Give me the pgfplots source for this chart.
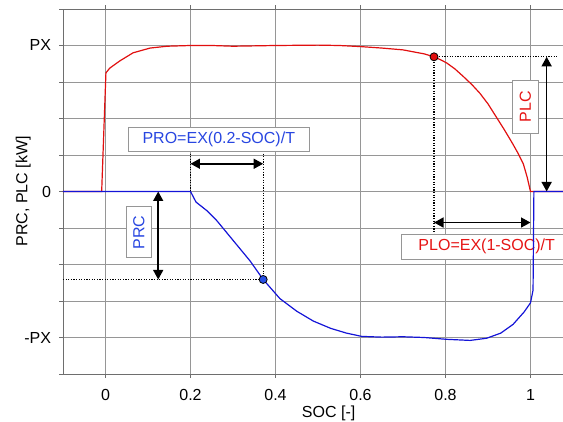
\documentclass[border=0pt]{standalone}
\usepackage{pgfplots}
\pgfplotsset{compat=1.18}
\usetikzlibrary{arrows.meta}
\usepackage{fontspec}
\setmainfont{Liberation Sans}

\definecolor{plcred}{RGB}{225,15,15}
\definecolor{prcblue}{RGB}{20,20,215}
\definecolor{dotblue}{RGB}{40,80,230}
\definecolor{txtblue}{RGB}{40,70,225}
\definecolor{txtred}{RGB}{230,20,20}
\definecolor{gridgray}{RGB}{150,150,150}
\definecolor{framegray}{RGB}{110,110,110}

\tikzset{
  helper/.style={black, line width=1.1pt, dash pattern=on 1.2pt off 1.4pt},
  dim/.style={black, line width=1.5pt, {Triangle[length=9.5pt,width=10pt]}-{Triangle[length=9.5pt,width=10pt]}},
  tag/.style={draw=gridgray, fill=white, line width=0.8pt, inner sep=0pt},
}

\begin{document}
\fontsize{16}{19}\selectfont
\begin{tikzpicture}
\path[use as bounding box] (-63pt,-47pt) rectangle (500pt,374pt);
\begin{axis}[
  scale only axis,
  width=531.25pt, height=365pt,
  xmin=-0.1, xmax=1.15, ymin=-5, ymax=5,
  xtick={0,0.2,0.4,0.6,0.8,1},
  ytick={-5,-4,-3,-2,-1,0,1,2,3,4,5},
  yticklabels={,-PX,,,,0,,,,PX,},
  /pgf/number format/assume math mode=true,
  xticklabel style={yshift=-6pt},
  yticklabel style={xshift=-3pt},
  grid=major,
  major grid style={gridgray, line width=0.8pt},
  axis line style={framegray, line width=0.9pt},
  tick style={framegray, line width=0.8pt},
  tick align=outside,
  major tick length=3.5pt,
  clip=false,
]

% axis titles
\node[anchor=base] at ([yshift=-43pt]rel axis cs:0.5,0) {SOC [-]};
\node[anchor=base, rotate=90] at ([xshift=-35.5pt]rel axis cs:0,0.5) {PRC, PLC [kW]};

% guide lines for the offsets
\draw[helper] (axis cs:-0.1,-2.41) -- (axis cs:0.371,-2.41);
\draw[helper] (axis cs:0.2,1.04) -- (axis cs:0.2,0);
\draw[helper] (axis cs:0.371,1.04) -- (axis cs:0.371,-2.41);
\draw[helper] (axis cs:0.773,3.69) -- (axis cs:1.065,3.69);
\draw[helper] (axis cs:0.773,3.69) -- (axis cs:0.773,-1.2);

% label boxes
\node[tag, text=txtblue, minimum width=181pt, minimum height=23.4pt] at (axis cs:0.2666,1.43) {PRO=EX(0.2-SOC)/T};
\node[tag, text=txtblue, rotate=90, minimum width=51pt, minimum height=25.7pt] at (axis cs:0.0784,-1.12) {PRC};
\node[tag, text=txtred, minimum width=170pt, minimum height=25pt] at (axis cs:0.897,-1.505) {PLO=EX(1-SOC)/T};
\node[tag, text=txtred, rotate=90, minimum width=53.3pt, minimum height=25.6pt] at (axis cs:0.988,2.32) {PLC};

% PLC: charging power limit
\addplot[plcred, line width=1.2pt] coordinates {
  (-0.1,0) (-0.009,0) (0.001,3.25) (0.01,3.38) (0.034,3.58) (0.065,3.80)
  (0.105,3.93) (0.145,3.98) (0.2,4.0) (0.25,4.0) (0.3,3.98) (0.35,3.99)
  (0.4,4.0) (0.5,4.01) (0.55,4.0) (0.6,3.97) (0.65,3.93) (0.7,3.88)
  (0.75,3.77) (0.773,3.69) (0.79,3.60) (0.803,3.52) (0.822,3.36) (0.842,3.15)
  (0.862,2.93) (0.881,2.69) (0.9,2.40) (0.919,2.05) (0.938,1.70)
  (0.958,1.31) (0.971,1.04) (0.983,0.76) (0.992,0.40) (1.0,0.0) (1.15,0)
};

% PRC: discharging power limit
\addplot[prcblue, line width=1.2pt] coordinates {
  (-0.1,0) (0.2,0) (0.213,-0.29) (0.238,-0.52) (0.262,-0.80) (0.301,-1.35)
  (0.340,-1.90) (0.371,-2.41) (0.41,-2.93) (0.45,-3.28) (0.489,-3.55)
  (0.53,-3.75) (0.567,-3.88) (0.603,-3.97) (0.65,-3.99) (0.7,-3.98)
  (0.75,-4.0) (0.803,-4.05) (0.858,-4.08) (0.897,-4.02) (0.93,-3.88)
  (0.959,-3.64) (0.985,-3.3) (1.0,-3.05) (1.006,-2.7) (1.008,0) (1.15,0)
};

% dimension arrows
\draw[dim] (axis cs:0.2,0.76) -- (axis cs:0.371,0.76);
\draw[dim] (axis cs:0.124,0) -- (axis cs:0.124,-2.41);
\draw[dim] (axis cs:0.773,-0.85) -- (axis cs:1.0,-0.85);
\draw[dim] (axis cs:1.038,3.69) -- (axis cs:1.038,0);

% operating points
\addplot[only marks, mark=*, mark size=4pt, mark options={fill=dotblue, draw=black, line width=0.8pt}] coordinates {(0.371,-2.41)};
\addplot[only marks, mark=*, mark size=4pt, mark options={fill=plcred, draw=black, line width=0.8pt}] coordinates {(0.773,3.69)};
\end{axis}
\end{tikzpicture}
\end{document}
